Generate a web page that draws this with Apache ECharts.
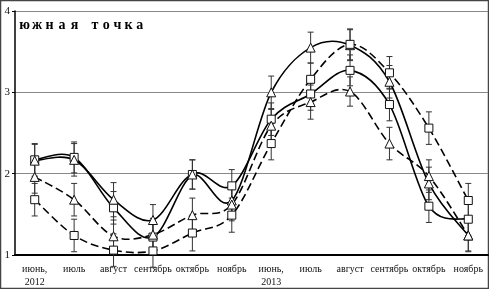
<!DOCTYPE html>
<html>
<head>
<meta charset="utf-8">
<script src="https://cdn.jsdelivr.net/npm/echarts@6/dist/echarts.min.js"></script>
<style>
  html, body { margin: 0; padding: 0; background: #fff; }
  #chart { width: 489px; height: 289px; }
</style>
</head>
<body>
<div id="chart"></div>
<script>
// месяцы наблюдений
const months = ['июнь,\n2012', 'июль', 'август', 'сентябрь', 'октябрь', 'ноябрь',
  'июнь,\n2013', 'июль', 'август', 'сентябрь', 'октябрь', 'ноябрь']
const yTicks = [1, 2, 3, 4]
const title = ['южная', 'точка']

// сплошная линия, квадраты
const solidSquare = [2.17, 2.20, 1.58, 1.22, 1.99, 1.85, 2.67, 2.98, 3.27, 2.85, 1.60, 1.44]
const solidSquareErr = [0.20, 0.19, 0.20, 0.19, 0.18, 0.20, 0.20, 0.20, 0.19, 0.20, 0.20, 0.20]
// сплошная линия, треугольники
const solidTri = [2.16, 2.17, 1.68, 1.43, 1.99, 1.67, 3.00, 3.55, 3.58, 3.13, 1.88, 1.24]
const solidTriErr = [0.20, 0.20, 0.21, 0.19, 0.18, 0.20, 0.20, 0.19, 0.19, 0.20, 0.20, 0.19]
// пунктир, треугольники
const dashTri = [1.96, 1.68, 1.23, 1.25, 1.49, 1.62, 2.59, 2.88, 3.01, 2.37, 1.97, 1.24]
const dashTriErr = [0.20, 0.20, 0.20, 0.20, 0.21, 0.20, 0.20, 0.21, 0.18, 0.20, 0.20, 0.20]
// пунктир, квадраты
const dashSquare = [1.68, 1.24, 1.06, 1.05, 1.27, 1.49, 2.37, 3.16, 3.59, 3.24, 2.56, 1.67]
const dashSquareErr = [0.20, 0.20, 0.20, 0.20, 0.22, 0.21, 0.20, 0.20, 0.19, 0.20, 0.20, 0.21]

const serif = '"Liberation Serif", "DejaVu Serif", serif'

// планки погрешностей
function errBars(vals, errs) {
  return {
    type: 'custom',
    z: 1,
    silent: true,
    data: vals.map((v, i) => [i, v, errs[i]]),
    renderItem: (params, api) => {
      const i = api.value(0), v = api.value(1), e = api.value(2)
      const top = api.coord([i, v + e])
      const bot = api.coord([i, v - e])
      const w = 3
      const style = { stroke: '#333', lineWidth: 1 }
      return {
        type: 'group',
        children: [
          { type: 'line', shape: { x1: top[0], y1: top[1], x2: bot[0], y2: bot[1] }, style },
          { type: 'line', shape: { x1: top[0] - w, y1: top[1], x2: top[0] + w, y2: top[1] }, style },
          { type: 'line', shape: { x1: bot[0] - w, y1: bot[1], x2: bot[0] + w, y2: bot[1] }, style }
        ]
      }
    }
  }
}

// сглаженная кривая как в Excel (Catmull-Rom -> Безье)
function curve(vals, dashed) {
  return {
    type: 'custom',
    z: 2,
    silent: true,
    data: [[0, vals[0]]],
    renderItem: (params, api) => {
      const p = vals.map((v, i) => api.coord([i, v]))
      const n = p.length
      let d = 'M' + p[0][0] + ' ' + p[0][1]
      for (let i = 0; i < n - 1; i++) {
        const p0 = p[Math.max(i - 1, 0)], p1 = p[i], p2 = p[i + 1], p3 = p[Math.min(i + 2, n - 1)]
        const c1 = [p1[0] + (p2[0] - p0[0]) / 6, p1[1] + (p2[1] - p0[1]) / 6]
        const c2 = [p2[0] - (p3[0] - p1[0]) / 6, p2[1] - (p3[1] - p1[1]) / 6]
        d += ' C' + c1[0] + ' ' + c1[1] + ' ' + c2[0] + ' ' + c2[1] + ' ' + p2[0] + ' ' + p2[1]
      }
      return {
        type: 'path',
        shape: { pathData: d },
        style: { fill: 'none', stroke: '#000', lineWidth: 1.6, lineDash: dashed ? [8, 4] : null }
      }
    }
  }
}

function markers(vals, symbol) {
  return {
    type: 'scatter',
    z: 4,
    silent: true,
    data: vals,
    symbol: symbol,
    symbolSize: symbol === 'rect' ? 8 : 9,
    itemStyle: { color: '#fff', borderColor: '#111', borderWidth: 1, opacity: 1 }
  }
}

// подпись «южная точка» с разрядкой
const titleText = []
title.forEach((word, w) => {
  word.split('').forEach((ch, k) => {
    titleText.push({
      type: 'text',
      x: (w === 0 ? 24.5 + k * 12.5 : 95 + k * 11.2),
      y: 25,
      style: { text: ch, font: 'bold 14px ' + serif, fill: '#000', align: 'center', verticalAlign: 'middle' }
    })
  })
})

const chart = echarts.init(document.getElementById('chart'))
chart.setOption({
  animation: false,
  grid: { left: 15, right: 1, top: 11, bottom: 32 },
  xAxis: [{
    type: 'category',
    data: months,
    boundaryGap: true,
    axisLine: { lineStyle: { color: '#000', width: 2 } },
    axisTick: { length: 4, lineStyle: { color: '#000' } },
    axisLabel: { color: '#111', fontFamily: serif, fontSize: 10, lineHeight: 13, margin: 8, interval: 0 }
  }, {
    type: 'category',
    data: months,
    position: 'bottom',
    axisLine: { show: false },
    axisTick: { alignWithLabel: true, length: 4, lineStyle: { color: '#000' } },
    axisLabel: { show: false }
  }],
  yAxis: {
    type: 'value',
    min: yTicks[0],
    max: yTicks[yTicks.length - 1],
    interval: 1,
    axisLine: { show: true, lineStyle: { color: '#000', width: 1.5 } },
    axisTick: { show: true, length: 3, lineStyle: { color: '#000' } },
    axisLabel: { color: '#111', fontFamily: serif, fontSize: 11, margin: 5 },
    splitLine: { lineStyle: { color: '#888', width: 1 } }
  },
  graphic: [
    { type: 'rect', shape: { x: 0.5, y: 0.5, width: 488, height: 288 }, style: { fill: 'none', stroke: '#444', lineWidth: 1.5 } }
  ].concat(titleText),
  series: [
    errBars(solidSquare, solidSquareErr),
    errBars(solidTri, solidTriErr),
    errBars(dashTri, dashTriErr),
    errBars(dashSquare, dashSquareErr),
    curve(solidSquare, false),
    curve(solidTri, false),
    curve(dashTri, true),
    curve(dashSquare, true),
    markers(solidSquare, 'rect'),
    markers(solidTri, 'triangle'),
    markers(dashTri, 'triangle'),
    markers(dashSquare, 'rect')
  ]
})
</script>
</body>
</html>
